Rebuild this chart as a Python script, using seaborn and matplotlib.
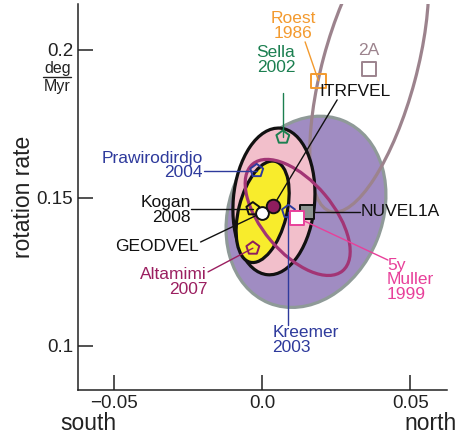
import matplotlib
matplotlib.use("Agg")
import matplotlib.pyplot as plt
import pandas as pd
import seaborn as sns
from matplotlib.lines import Line2D
from matplotlib.patches import Ellipse

# uncertainty ellipses: centre x, centre y, width, height, angle
ell_names = ["2A", "purple", "pink", "yellow", "magenta"]
ell_x = [0.0361, 0.0148, 0.0040, 0.0002, 0.0120]
ell_y = [0.1935, 0.1453, 0.1488, 0.1453, 0.1434]
ell_w = [0.0317, 0.0515, 0.0274, 0.0162, 0.0239]
ell_h = [0.0997, 0.0665, 0.0497, 0.0351, 0.0471]
ell_angle = [-15, -22, -5, -14, 40]

# pole estimates
models = ["Sella", "Prawirodirdjo", "Kogan", "GEODVEL", "ITRFVEL", "Altamimi",
          "Kreemer", "NUVEL1A", "Muller", "Roest", "2A"]
north_comp = [0.0070, -0.0018, -0.0031, 0.0000, 0.0038, -0.0031,
              0.0089, 0.0150, 0.0119, 0.0190, 0.0361]
rot_rate = [0.1705, 0.1592, 0.1463, 0.1450, 0.1473, 0.1330,
            0.1454, 0.1452, 0.1433, 0.1896, 0.1935]
labels = ["Sella\n2002", "Prawirodirdjo\n2004", "Kogan\n2008", "GEODVEL",
          "ITRFVEL", "Altamimi\n2007", "Kreemer\n2003", "NUVEL1A",
          "5y\nMuller\n1999", "Roest\n1986", "2A"]

x_ticks = [-0.05, 0.0, 0.05]
x_ticklabels = ["\u22120.05", "0.0", "0.05"]
y_ticks = [0.1, 0.15, 0.2]
y_ticklabels = ["0.1", "0.15", "0.2"]

# styles
ell_style = {
  "2A": dict(facecolor="none", edgecolor="#9C838D", lw=2.3, zorder=2),
  "purple": dict(facecolor="#A08CC2", edgecolor="#8F9A98", lw=2.3, zorder=1),
  "pink": dict(facecolor="#F2BFCB", edgecolor="#111111", lw=2.3, zorder=3),
  "yellow": dict(facecolor="#F8EC2C", edgecolor="#111111", lw=2.3, zorder=4),
  "magenta": dict(facecolor="none", edgecolor="#A23575", lw=2.3, zorder=5),
}
# marker, size, face, edge
mk_style = {
  "Sella": ("p", 95, "none", "#1B7F50"),
  "Prawirodirdjo": ("p", 95, "none", "#2E3A9C"),
  "Kogan": ("p", 95, "none", "#111111"),
  "GEODVEL": ("o", 85, "white", "#111111"),
  "ITRFVEL": ("o", 95, "#8E1D5E", "#111111"),
  "Altamimi": ("p", 95, "none", "#8E1D5E"),
  "Kreemer": ("p", 95, "none", "#2E3A9C"),
  "NUVEL1A": ("s", 95, "#8C9490", "#111111"),
  "Muller": ("s", 105, "white", "#E8409A"),
  "Roest": ("s", 105, "none", "#F39A2E"),
  "2A": ("s", 105, "none", "#9C838D"),
}
txt_color = {
  "Sella": "#1B7F50", "Prawirodirdjo": "#2E3A9C", "Kogan": "#111111",
  "GEODVEL": "#111111", "ITRFVEL": "#111111", "Altamimi": "#9B1F60",
  "Kreemer": "#2E3A9C", "NUVEL1A": "#111111", "Muller": "#E8409A",
  "Roest": "#F39A2E", "2A": "#9C838D",
}
# label anchor (x, y, ha) and leader start point (None = no leader)
layout = {
  "Sella": ((0.0047, 0.1966, "center"), (0.0070, 0.1856)),
  "Prawirodirdjo": ((-0.0200, 0.1610, "right"), (-0.0195, 0.1592)),
  "Kogan": ((-0.0240, 0.1459, "right"), (-0.0240, 0.1463)),
  "GEODVEL": ((-0.0213, 0.1335, "right"), (-0.0207, 0.1351)),
  "ITRFVEL": ((0.0313, 0.1858, "center"), (0.0253, 0.1831)),
  "Altamimi": ((-0.0185, 0.1216, "right"), (-0.0182, 0.1250)),
  "Kreemer": ((0.0034, 0.1020, "left"), (0.0089, 0.1071)),
  "NUVEL1A": ((0.0333, 0.1453, "left"), (0.0331, 0.1452)),
  "Muller": ((0.0421, 0.1223, "left"), (0.0424, 0.1290)),
  "Roest": ((0.0104, 0.2081, "center"), (0.0145, 0.2027)),
  "2A": ((0.0361, 0.1997, "center"), None),
}

sns.set_theme(style="ticks")
plt.rcParams["font.family"] = ["Liberation Sans", "DejaVu Sans"]

W, H = 464, 438
fig = plt.figure(figsize=(W / 100, H / 100), dpi=100)
ax = fig.add_axes([78 / W, 48 / H, 369 / W, 386 / H])

for i, name in enumerate(ell_names):
  ax.add_patch(Ellipse((ell_x[i], ell_y[i]), ell_w[i], ell_h[i],
                       angle=ell_angle[i], **ell_style[name]))

for i, name in enumerate(models):
  (tx, ty, ha), lead = layout[name]
  ax.text(tx, ty, labels[i], ha=ha, va="center", fontsize=12.5,
          color=txt_color[name], linespacing=0.95, zorder=8)
  if lead is not None:
    ax.plot([lead[0], north_comp[i]], [lead[1], rot_rate[i]],
            color=txt_color[name], lw=1.0, zorder=6)

pts = pd.DataFrame({"model": models, "north": north_comp, "rate": rot_rate})
for _, row in pts.iterrows():
  mk, size, face, edge = mk_style[row["model"]]
  sns.scatterplot(x=[row["north"]], y=[row["rate"]], marker=mk, s=size,
                  color=face, edgecolor=edge, linewidth=1.4, zorder=7,
                  ax=ax, legend=False)

ax.set_xlim(-0.0620, 0.0623)
ax.set_ylim(0.0851, 0.2155)
ax.set_xticks(x_ticks)
ax.set_xticklabels(x_ticklabels)
ax.set_yticks(y_ticks)
ax.set_yticklabels(y_ticklabels)
ax.tick_params(direction="in", length=10.8, width=1.1, pad=3.5,
               labelsize=13.5, colors="#222222")
sns.despine(ax=ax)
for side in ["left", "bottom"]:
  ax.spines[side].set_linewidth(1.1)
  ax.spines[side].set_color("#222222")
ax.set_xlabel("")
ax.set_ylabel("")

fig.text(24 / W, 1 - 197 / H, "rotation rate", rotation=90, ha="center",
         va="center", fontsize=16.5, color="#222222")
fig.text(88 / W, 1 - 423 / H, "south", ha="center", va="center",
         fontsize=16.5, color="#222222")
fig.text(431 / W, 1 - 423 / H, "north", ha="center", va="center",
         fontsize=16.5, color="#222222")
fig.text(71 / W, 1 - 69 / H, "deg", ha="right", va="center",
         fontsize=11.5, color="#222222")
fig.text(71 / W, 1 - 87 / H, "Myr", ha="right", va="center",
         fontsize=11.5, color="#222222")
fig.add_artist(Line2D([43 / W, 71 / W], [1 - 77 / H, 1 - 77 / H],
                      color="#222222", lw=1.0))

fig.savefig("out.png", dpi=100)
